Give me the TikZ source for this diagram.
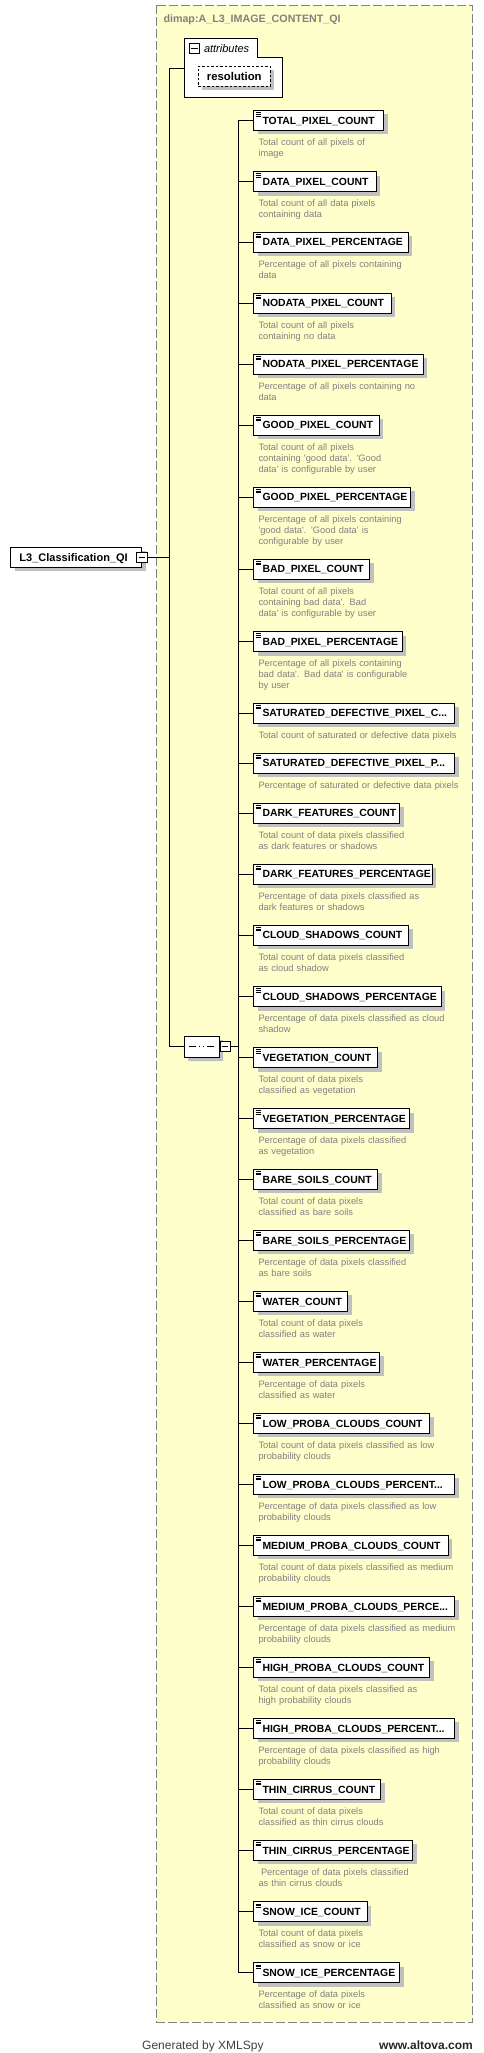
\documentclass[tikz,border=0pt]{standalone}
\usepackage{fontspec}
\setmainfont{Liberation Sans}
\usetikzlibrary{shadows,shapes.misc}

\definecolor{boxyellow}{RGB}{255,255,204}
\definecolor{framegray}{RGB}{128,128,128}
\definecolor{shadowgray}{RGB}{192,192,192}
\definecolor{descgray}{RGB}{128,128,128}

\newcommand{\elemfont}{\fontsize{10.4}{12}\selectfont\bfseries}
\newcommand{\descfont}{\fontsize{9.3}{11}\selectfont}
\newcommand{\rootfont}{\fontsize{11}{13}\selectfont\bfseries}
\newcommand{\resfont}{\fontsize{11.3}{13}\selectfont\bfseries}
\newcommand{\apos}{\textquotesingle}

\tikzstyle{boxshadow} = [drop shadow={shadow xshift=4pt, shadow yshift=-4pt, fill=shadowgray, opacity=1}]
\tikzstyle{elem} = [rectangle, draw=black, line width=1pt, fill=white, minimum height=20pt, inner xsep=0pt, inner ysep=0pt, anchor=west, align=left, text height=7.4pt, text depth=0pt, font=\elemfont, execute at begin node={\hspace*{9pt}}, boxshadow]
\tikzstyle{leaf} = [elem, path picture={\draw[line width=0.6pt] ([xshift=2pt,yshift=-2pt]path picture bounding box.north west) -- ++(5.5pt,0pt) ([xshift=2pt,yshift=-3.7pt]path picture bounding box.north west) -- ++(5.5pt,0pt) ([xshift=2pt,yshift=-5.4pt]path picture bounding box.north west) -- ++(5.5pt,0pt);}]
\tikzstyle{desc} = [anchor=base west, inner sep=0pt, text width=215pt, align=left, font=\descfont, text=descgray]
\tikzstyle{minusbox} = [rectangle, draw=black, line width=1pt, fill=white, minimum size=10.5pt, inner sep=0pt, path picture={\draw[line width=1pt] ([xshift=2.2pt]path picture bounding box.west) -- ([xshift=-2.2pt]path picture bounding box.east);}]
\tikzstyle{seqbox} = [chamfered rectangle, chamfered rectangle xsep=5pt, draw=black, line width=1pt, fill=white, minimum width=34.7pt, minimum height=21pt, inner sep=0pt, boxshadow, path picture={\draw[line width=1pt] ([xshift=-12.5pt]path picture bounding box.center) -- ([xshift=12.5pt]path picture bounding box.center); \fill ([xshift=-5.5pt,yshift=-1.4pt]path picture bounding box.center) rectangle ++(3pt,2.8pt); \fill ([xshift=-1.5pt,yshift=-1.4pt]path picture bounding box.center) rectangle ++(3pt,2.8pt); \fill ([xshift=2.5pt,yshift=-1.4pt]path picture bounding box.center) rectangle ++(3pt,2.8pt);}]
\tikzstyle{attrnode} = [rectangle, draw=black, dash pattern=on 2.5pt off 2pt, line width=1pt, fill=white, minimum width=72pt, minimum height=20pt, inner sep=0pt, text height=7.6pt, text depth=0pt, font=\resfont, boxshadow]
\tikzstyle{link} = [line width=1pt]

\begin{document}
\begin{tikzpicture}[x=1pt, y=-1pt]

	\useasboundingbox (0,0) rectangle (483,2053);

	% complex type frame
	\draw [framegray, fill=boxyellow, line width=1pt, dash pattern=on 9pt off 3pt] (156.7,5.3) rectangle (472.3,2022.3);
	\node (typename) [anchor=base west, inner sep=0pt, text=framegray, font=\fontsize{10.7}{12}\selectfont\bfseries] at (163.3,22.7) {dimap:A\_L3\_IMAGE\_CONTENT\_QI};

	% attributes
	\draw [line width=1pt, fill=white] (184.3,38.3) -- (257.3,38.3) -- (257.3,57.3) -- (282.7,57.3) -- (282.7,97.3) -- (184.3,97.3) -- cycle;
	\node (attrminus) [minusbox] at (194.5,48.7) {};
	\node (attrlabel) [anchor=west, inner sep=0pt, font=\fontsize{11}{13}\selectfont\itshape] at (203.8,48.5) {attributes};
	\node (resolution) [attrnode] at (234.3,76.2) {resolution};
	\coordinate (attrlink) at (184.3,68.3);

	% root element and sequence
	\node (root) [elem, font=\rootfont, text width=131pt] at (10,557.3) {L3\_Classification\_QI};
	\node (rootminus) [minusbox] at (root.east) {};
	\node (seq) [seqbox] at (201.7,1046.5) {};
	\node (seqminus) [minusbox, anchor=west] at (seq.east) {};
	\coordinate (trunk) at (169.5,557.3);
	\coordinate (bus) at (238.7,1046.5);

	% child elements
	\node (total) [leaf, text width=130pt] at (253,120.4) {TOTAL\_PIXEL\_COUNT};
	\node (totaldesc) [desc] at ([xshift=5.3pt,yshift=-25pt]total.west) {Total count of all pixels of\\image};

	\node (data) [leaf, text width=122.7pt] at (253,181.5) {DATA\_PIXEL\_COUNT};
	\node (datadesc) [desc] at ([xshift=5.3pt,yshift=-25pt]data.west) {Total count of all data pixels\\containing data};

	\node (datapct) [leaf, text width=154.7pt] at (253,242.2) {DATA\_PIXEL\_PERCENTAGE};
	\node (datapctdesc) [desc] at ([xshift=5.3pt,yshift=-25pt]datapct.west) {Percentage of all pixels containing\\data};

	\node (nodata) [leaf, text width=137.7pt] at (253,303.2) {NODATA\_PIXEL\_COUNT};
	\node (nodatadesc) [desc] at ([xshift=5.3pt,yshift=-25pt]nodata.west) {Total count of all pixels\\containing no data};

	\node (nodatapct) [leaf, text width=169.7pt] at (253,364.2) {NODATA\_PIXEL\_PERCENTAGE};
	\node (nodatapctdesc) [desc] at ([xshift=5.3pt,yshift=-25pt]nodatapct.west) {Percentage of all pixels containing no\\data};

	\node (good) [leaf, text width=125.7pt] at (253,425.2) {GOOD\_PIXEL\_COUNT};
	\node (gooddesc) [desc] at ([xshift=5.3pt,yshift=-25pt]good.west) {Total count of all pixels\\containing \apos good data\apos. \apos Good\\data\apos{} is configurable by user};

	\node (goodpct) [leaf, text width=157pt] at (253,497.2) {GOOD\_PIXEL\_PERCENTAGE};
	\node (goodpctdesc) [desc] at ([xshift=5.3pt,yshift=-25pt]goodpct.west) {Percentage of all pixels containing\\\apos good data\apos. \apos Good data\apos{} is\\configurable by user};

	\node (bad) [leaf, text width=116.3pt] at (253,569.2) {BAD\_PIXEL\_COUNT};
	\node (baddesc) [desc] at ([xshift=5.3pt,yshift=-25pt]bad.west) {Total count of all pixels\\containing bad data\apos. Bad\\data\apos{} is configurable by user};

	\node (badpct) [leaf, text width=148.7pt] at (253,641.7) {BAD\_PIXEL\_PERCENTAGE};
	\node (badpctdesc) [desc] at ([xshift=5.3pt,yshift=-25pt]badpct.west) {Percentage of all pixels containing\\bad data\apos. Bad data\apos{} is configurable\\by user};

	\node (satc) [leaf, text width=201.3pt] at (253,713.2) {SATURATED\_DEFECTIVE\_PIXEL\_C...};
	\node (satcdesc) [desc] at ([xshift=5.3pt,yshift=-25pt]satc.west) {Total count of saturated or defective data pixels};

	\node (satp) [leaf, text width=201.3pt] at (253,763.2) {SATURATED\_DEFECTIVE\_PIXEL\_P...};
	\node (satpdesc) [desc] at ([xshift=5.3pt,yshift=-25pt]satp.west) {Percentage of saturated or defective data pixels};

	\node (darkc) [leaf, text width=146.3pt] at (253,813.2) {DARK\_FEATURES\_COUNT};
	\node (darkcdesc) [desc] at ([xshift=5.3pt,yshift=-25pt]darkc.west) {Total count of data pixels classified\\as dark features or shadows};

	\node (darkp) [leaf, text width=178.7pt] at (253,874.2) {DARK\_FEATURES\_PERCENTAGE};
	\node (darkpdesc) [desc] at ([xshift=5.3pt,yshift=-25pt]darkp.west) {Percentage of data pixels classified as\\dark features or shadows};

	\node (shadowc) [leaf, text width=155.3pt] at (253,935.2) {CLOUD\_SHADOWS\_COUNT};
	\node (shadowcdesc) [desc] at ([xshift=5.3pt,yshift=-25pt]shadowc.west) {Total count of data pixels classified\\as cloud shadow};

	\node (shadowp) [leaf, text width=187.7pt] at (253,996.7) {CLOUD\_SHADOWS\_PERCENTAGE};
	\node (shadowpdesc) [desc] at ([xshift=5.3pt,yshift=-25pt]shadowp.west) {Percentage of data pixels classified as cloud\\shadow};

	\node (vegc) [leaf, text width=124.3pt] at (253,1057.5) {VEGETATION\_COUNT};
	\node (vegcdesc) [desc] at ([xshift=5.3pt,yshift=-25pt]vegc.west) {Total count of data pixels\\classified as vegetation};

	\node (vegp) [leaf, text width=156.3pt] at (253,1118.5) {VEGETATION\_PERCENTAGE};
	\node (vegpdesc) [desc] at ([xshift=5.3pt,yshift=-25pt]vegp.west) {Percentage of data pixels classified\\as vegetation};

	\node (barec) [leaf, text width=124.3pt] at (253,1179.3) {BARE\_SOILS\_COUNT};
	\node (barecdesc) [desc] at ([xshift=5.3pt,yshift=-25pt]barec.west) {Total count of data pixels\\classified as bare soils};

	\node (barep) [leaf, text width=156.3pt] at (253,1240.3) {BARE\_SOILS\_PERCENTAGE};
	\node (barepdesc) [desc] at ([xshift=5.3pt,yshift=-25pt]barep.west) {Percentage of data pixels classified\\as bare soils};

	\node (waterc) [leaf, text width=94.3pt] at (253,1301.3) {WATER\_COUNT};
	\node (watercdesc) [desc] at ([xshift=5.3pt,yshift=-25pt]waterc.west) {Total count of data pixels\\classified as water};

	\node (waterp) [leaf, text width=126.3pt] at (253,1362.3) {WATER\_PERCENTAGE};
	\node (waterpdesc) [desc] at ([xshift=5.3pt,yshift=-25pt]waterp.west) {Percentage of data pixels\\classified as water};

	\node (lowc) [leaf, text width=176.3pt] at (253,1423.3) {LOW\_PROBA\_CLOUDS\_COUNT};
	\node (lowcdesc) [desc] at ([xshift=5.3pt,yshift=-25pt]lowc.west) {Total count of data pixels classified as low\\probability clouds};

	\node (lowp) [leaf, text width=201.3pt] at (253,1484.3) {LOW\_PROBA\_CLOUDS\_PERCENT...};
	\node (lowpdesc) [desc] at ([xshift=5.3pt,yshift=-25pt]lowp.west) {Percentage of data pixels classified as low\\probability clouds};

	\node (medc) [leaf, text width=194.7pt] at (253,1545.3) {MEDIUM\_PROBA\_CLOUDS\_COUNT};
	\node (medcdesc) [desc] at ([xshift=5.3pt,yshift=-25pt]medc.west) {Total count of data pixels classified as medium\\probability clouds};

	\node (medp) [leaf, text width=201.3pt] at (253,1606.3) {MEDIUM\_PROBA\_CLOUDS\_PERCE...};
	\node (medpdesc) [desc] at ([xshift=5.3pt,yshift=-25pt]medp.west) {Percentage of data pixels classified as medium\\probability clouds};

	\node (highc) [leaf, text width=176.3pt] at (253,1667.3) {HIGH\_PROBA\_CLOUDS\_COUNT};
	\node (highcdesc) [desc] at ([xshift=5.3pt,yshift=-25pt]highc.west) {Total count of data pixels classified as\\high probability clouds};

	\node (highp) [leaf, text width=201.3pt] at (253,1728.3) {HIGH\_PROBA\_CLOUDS\_PERCENT...};
	\node (highpdesc) [desc] at ([xshift=5.3pt,yshift=-25pt]highp.west) {Percentage of data pixels classified as high\\probability clouds};

	\node (thinc) [leaf, text width=127pt] at (253,1789.3) {THIN\_CIRRUS\_COUNT};
	\node (thincdesc) [desc] at ([xshift=5.3pt,yshift=-25pt]thinc.west) {Total count of data pixels\\classified as thin cirrus clouds};

	\node (thinp) [leaf, text width=159.3pt] at (253,1850.3) {THIN\_CIRRUS\_PERCENTAGE};
	\node (thinpdesc) [desc] at ([xshift=5.3pt,yshift=-25pt]thinp.west) {\hspace*{2.5pt}Percentage of data pixels classified\\as thin cirrus clouds};

	\node (snowc) [leaf, text width=113.7pt] at (253,1911.8) {SNOW\_ICE\_COUNT};
	\node (snowcdesc) [desc] at ([xshift=5.3pt,yshift=-25pt]snowc.west) {Total count of data pixels\\classified as snow or ice};

	\node (snowp) [leaf, text width=146.3pt] at (253,1972.8) {SNOW\_ICE\_PERCENTAGE};
	\node (snowpdesc) [desc] at ([xshift=5.3pt,yshift=-25pt]snowp.west) {Percentage of data pixels\\classified as snow or ice};

	% connectors
	\draw [link] (rootminus.east) -- (trunk);
	\draw [link] (attrlink) -| (trunk) |- (seq.west);
	\draw [link] (seqminus.east) -- (bus);
	\draw [link] (bus) |- (total.west) (bus) |- (data.west) (bus) |- (datapct.west) (bus) |- (nodata.west)
		(bus) |- (nodatapct.west) (bus) |- (good.west) (bus) |- (goodpct.west) (bus) |- (bad.west)
		(bus) |- (badpct.west) (bus) |- (satc.west) (bus) |- (satp.west) (bus) |- (darkc.west)
		(bus) |- (darkp.west) (bus) |- (shadowc.west) (bus) |- (shadowp.west) (bus) |- (vegc.west)
		(bus) |- (vegp.west) (bus) |- (barec.west) (bus) |- (barep.west) (bus) |- (waterc.west)
		(bus) |- (waterp.west) (bus) |- (lowc.west) (bus) |- (lowp.west) (bus) |- (medc.west)
		(bus) |- (medp.west) (bus) |- (highc.west) (bus) |- (highp.west) (bus) |- (thinc.west)
		(bus) |- (thinp.west) (bus) |- (snowc.west) (bus) |- (snowp.west);

	% footer
	\node (generated) [anchor=base west, inner sep=0pt, text=black!75, font=\fontsize{12}{14}\selectfont] at (142,2049.5) {Generated by XMLSpy};
	\node (altova) [anchor=base east, inner sep=0pt, text=black!85, font=\fontsize{12}{14}\selectfont\bfseries] at (473,2049.5) {www.altova.com};

\end{tikzpicture}
\end{document}
